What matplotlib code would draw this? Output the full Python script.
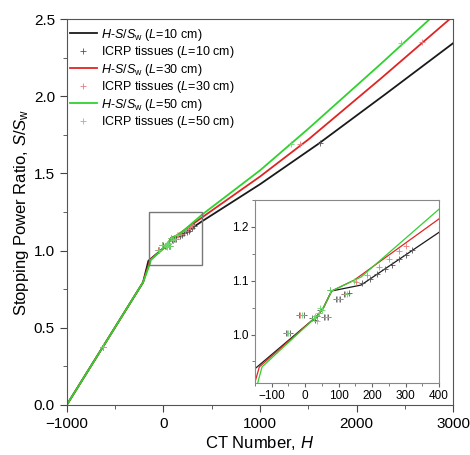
import numpy as np
import matplotlib
matplotlib.use('Agg')
import matplotlib.pyplot as plt
from matplotlib.patches import Rectangle
from matplotlib.ticker import MultipleLocator

plt.rcParams['font.family'] = ['Liberation Sans', 'DejaVu Sans']
plt.rcParams['mathtext.fontset'] = 'custom'
plt.rcParams['mathtext.rm'] = 'Liberation Sans'
plt.rcParams['mathtext.it'] = 'Liberation Sans:italic'

# H-S/Sw conversion curves
h_10 = [-1000, -210, -155, 33, 53, 79, 167, 400, 1000, 1600, 2300, 3000]
s_10 = [0.0, 0.795, 0.934, 1.033, 1.048, 1.081, 1.092, 1.19, 1.43, 1.69, 2.015, 2.345]
h_30 = [-1000, -210, -150, -137, 33, 53, 79, 146, 400, 1000, 1500, 2250, 3000]
s_30 = [0.0, 0.795, 0.912, 0.94, 1.033, 1.048, 1.081, 1.101, 1.215, 1.48, 1.72, 2.115, 2.52]
h_50 = [-1000, -210, -142, -129, 33, 53, 79, 167, 400, 1000, 1500, 2250, 3000]
s_50 = [0.0, 0.795, 0.91, 0.94, 1.033, 1.048, 1.081, 1.107, 1.233, 1.52, 1.79, 2.21, 2.64]

# ICRP tissues
th_10 = [-627, -58, -46, -18, -5, 20, 30, 35, 45, 55, 68, 75, 92, 104, 115, 130, 170,
         195, 215, 240, 260, 280, 300, 320, 1620]
ts_10 = [0.375, 1.003, 1.003, 1.037, 1.037, 1.03, 1.027, 1.035, 1.045, 1.033, 1.033, 1.082,
         1.067, 1.067, 1.075, 1.078, 1.095, 1.104, 1.112, 1.122, 1.13, 1.14, 1.148, 1.157, 1.697]
th_30 = [-627, -55, -15, 25, 40, 60, 95, 120, 151, 185, 220, 250, 280, 300, 1413, 2675]
ts_30 = [0.375, 1.003, 1.037, 1.03, 1.04, 1.033, 1.067, 1.075, 1.098, 1.11, 1.125, 1.14,
         1.155, 1.165, 1.69, 2.35]
th_50 = [-627, -50, -10, 25, 30, 35, 40, 45, 50, 65, 75, 100, 125, 145, 1321, 2461]
ts_50 = [0.375, 1.003, 1.037, 1.03, 1.035, 1.025, 1.04, 1.05, 1.045, 1.033, 1.082, 1.067,
         1.075, 1.1, 1.69, 2.343]

series = [
    (h_10, s_10, th_10, ts_10, '#1a1a1a', '#555555', '10'),
    (h_30, s_30, th_30, ts_30, '#e02424', '#e87a7a', '30'),
    (h_50, s_50, th_50, ts_50, '#2fd12f', '#6ad86a', '50'),
]

fig = plt.figure(figsize=(4.7, 4.55), dpi=100)
ax = fig.add_axes([0.142, 0.110, 0.8225, 0.848])

for h, s, th, ts, c, mc, L in series:
    ax.plot(h, s, color=c, lw=1.3, label=f'$H$-$S$/$S$$_\\mathrm{{w}}$ ($L$={L} cm)')
    ax.plot(th, ts, ls='none', marker='+', ms=5, mew=0.6, color=mc,
            label=f'ICRP tissues ($L$={L} cm)')

ax.add_patch(Rectangle((-150, 0.91), 550, 0.34, fill=False, ec='#777777', lw=1.0, zorder=5))

ax.set_xlim(-1000, 3000)
ax.set_ylim(0, 2.5)
ax.xaxis.set_major_locator(MultipleLocator(1000))
ax.xaxis.set_minor_locator(MultipleLocator(500))
ax.yaxis.set_major_locator(MultipleLocator(0.5))
ax.yaxis.set_minor_locator(MultipleLocator(0.25))
ax.yaxis.set_major_formatter(plt.FormatStrFormatter('%.1f'))
ax.tick_params(which='both', direction='out', labelsize=11, color='#444444')
ax.tick_params(which='major', length=5)
ax.tick_params(which='minor', length=3)
for sp in ax.spines.values():
    sp.set_color('#555555')
ax.set_xlabel('CT Number, $H$', fontsize=12, labelpad=2)
ax.set_ylabel('Stopping Power Ratio, $S$/$S$$_\\mathrm{w}$', fontsize=12, labelpad=2)

ax.legend(loc='upper left', frameon=False, fontsize=9, handlelength=2.2,
          handletextpad=0.3, labelspacing=0.12, borderaxespad=0.2,
          bbox_to_anchor=(-0.012, 1.0))

ins = fig.add_axes([0.5426, 0.1582, 0.3915, 0.4022])
for h, s, th, ts, c, mc, L in series:
    ins.plot(h, s, color=c, lw=0.9)
    ins.plot(th, ts, ls='none', marker='+', ms=5, mew=0.6, color=mc)
ins.set_xlim(-150, 400)
ins.set_ylim(0.91, 1.25)
ins.xaxis.set_major_locator(MultipleLocator(100))
ins.xaxis.set_minor_locator(MultipleLocator(50))
ins.yaxis.set_major_locator(MultipleLocator(0.1))
ins.yaxis.set_minor_locator(MultipleLocator(0.05))
ins.yaxis.set_major_formatter(plt.FormatStrFormatter('%.1f'))
ins.tick_params(which='both', direction='out', labelsize=8.5, color='#666666', pad=2)
ins.tick_params(which='major', length=3)
ins.tick_params(which='minor', length=2)
for sp in ins.spines.values():
    sp.set_color('#888888')

fig.savefig('out.png', dpi=100)
